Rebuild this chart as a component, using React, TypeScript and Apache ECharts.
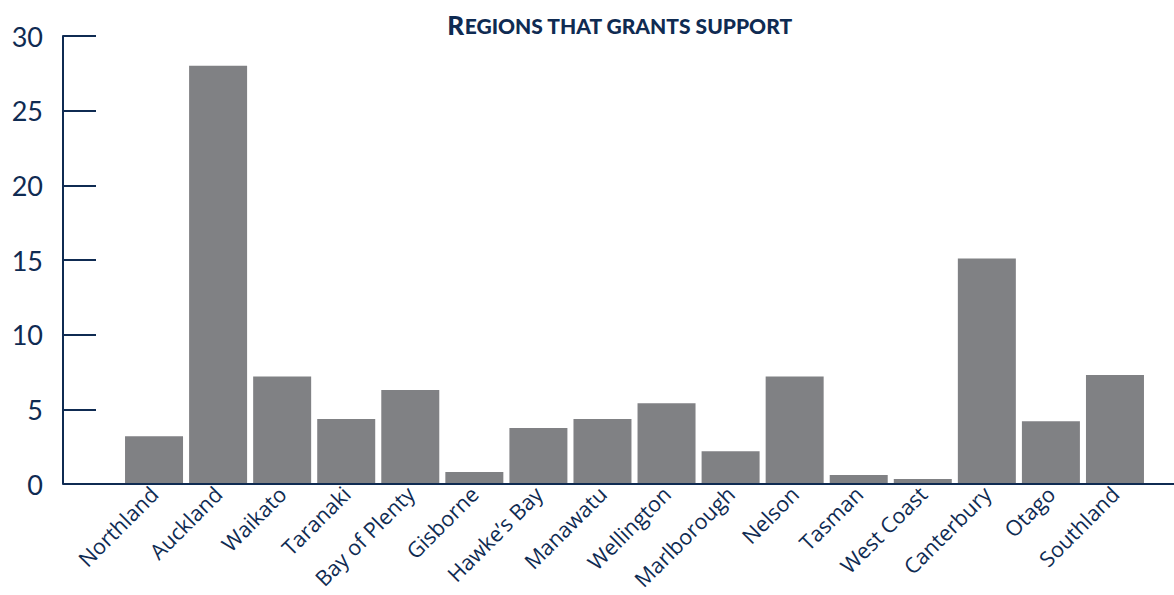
import React, { useEffect, useRef } from "react";
import * as echarts from "echarts";

const categories = [
  "Northland", "Auckland", "Waikato", "Taranaki", "Bay of Plenty", "Gisborne",
  "Hawke’s Bay", "Manawatu", "Wellington", "Marlborough", "Nelson", "Tasman",
  "West Coast", "Canterbury", "Otago", "Southland",
];
const values = [3.2, 28, 7.2, 4.35, 6.3, 0.8, 3.75, 4.35, 5.4, 2.2, 7.2, 0.6, 0.33, 15.1, 4.2, 7.3];
const yTicks = { min: 0, max: 30, interval: 5 };
const titleFirst = "R";
const titleRest = "EGIONS THAT GRANTS SUPPORT";

const NAVY = "#0f2b52";
const FONT = "Lato";

export default function App() {
  const ref = useRef<HTMLDivElement>(null);
  useEffect(() => {
    document.body.style.margin = "0";
    document.body.style.overflow = "hidden";
    document.documentElement.style.overflow = "hidden";
    const chart = echarts.init(ref.current!, null, { renderer: "svg" });
    const gridTop = 36;
    const gridBottom = 111;
    const H = 595;
    chart.setOption({
      animation: false,
      title: {
        text: `{a|${titleFirst}}{b|${titleRest}}`,
        left: 615,
        textAlign: "center",
        top: 7,
        textStyle: {
          rich: {
            a: { fontFamily: FONT, fontWeight: 900, fontSize: 26, color: NAVY },
            b: { fontFamily: FONT, fontWeight: 900, fontSize: 21, color: NAVY },
          },
        },
      },
      grid: {
        left: 122,
        right: 27,
        top: gridTop,
        bottom: gridBottom,
        containLabel: false,
        outerBoundsMode: "none",
      },
      xAxis: {
        type: "category",
        data: categories,
        axisLine: { show: false },
        axisTick: { show: false },
        axisLabel: {
          rotate: 45,
          interval: 0,
          margin: 6,
          fontFamily: "Open Sans",
          fontSize: 21.5,
          color: NAVY,
        },
      },
      yAxis: {
        type: "value",
        min: yTicks.min,
        max: yTicks.max,
        interval: yTicks.interval,
        offset: 59,
        axisLine: { show: true, lineStyle: { color: NAVY, width: 2 } },
        axisTick: { show: true, inside: true, length: 33, lineStyle: { color: NAVY, width: 2 } },
        splitLine: { show: false },
        axisLabel: {
          margin: 20,
          fontFamily: FONT,
          fontSize: 27,
          color: NAVY,
          padding: [10, 0, 0, 0],
        },
      },
      graphic: [
        {
          type: "line",
          shape: { x1: 63, y1: H - gridBottom, x2: 1174, y2: H - gridBottom },
          style: { stroke: NAVY, lineWidth: 2 },
          z: 10,
        },
      ],
      series: [
        {
          type: "bar",
          data: values,
          barWidth: 58,
          itemStyle: { color: "#808184" },
        },
      ],
    });
    return () => chart.dispose();
  }, []);
  return <div ref={ref} style={{ width: 1174, height: 595, overflow: "hidden" }} />;
}
